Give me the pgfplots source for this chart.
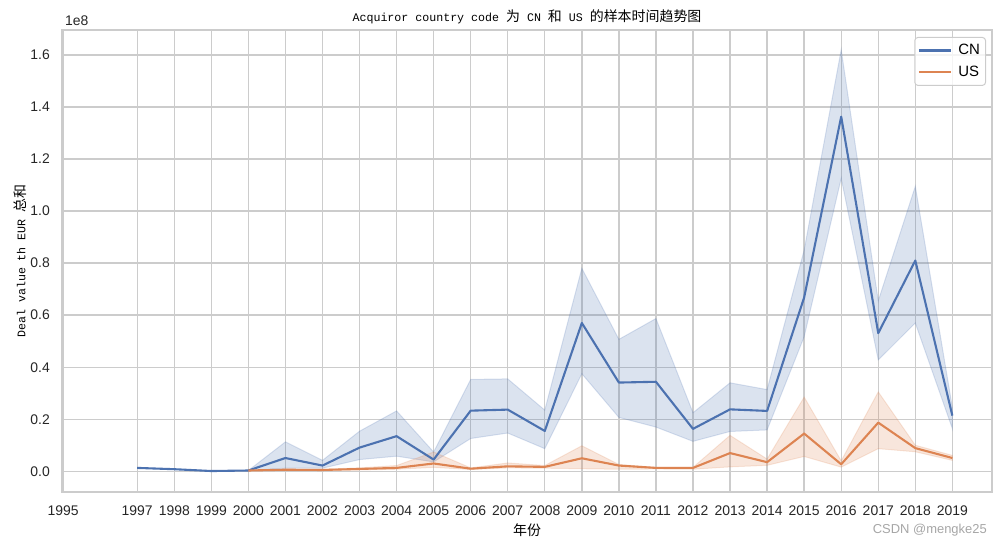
\documentclass[border=0pt]{standalone}
\usepackage{pgfplots}
\pgfplotsset{compat=1.18}
\usepgfplotslibrary{fillbetween}
\usepackage{fontspec}
\setmainfont{Liberation Sans}
\newfontfamily\cjk{Noto Sans CJK SC}
\newfontfamily\mono{Liberation Mono}
\newcommand\M[1]{{\mono\fontsize{11.67}{14}\selectfont #1}}
\newcommand\C[1]{{\cjk\fontsize{14}{16}\selectfont #1}}
\definecolor{cnblue}{RGB}{76,114,176}
\definecolor{usorange}{RGB}{221,132,82}
\definecolor{gridgray}{RGB}{204,204,204}

% year, mean, lower, upper (values in units of 1e8 EUR)
\pgfplotstableread{
year mean
1997 0.013
1998 0.008
1999 0.001
2000 0.003
2001 0.051
2002 0.022
2003 0.091
2004 0.135
2005 0.045
2006 0.233
2007 0.237
2008 0.155
2009 0.570
2010 0.341
2011 0.344
2012 0.163
2013 0.238
2014 0.232
2015 0.668
2016 1.363
2017 0.531
2018 0.810
2019 0.214
}\cnmean
\pgfplotstableread{
year lo up
2000 0.003 0.003
2001 0.012 0.113
2002 0.012 0.042
2003 0.045 0.154
2004 0.058 0.232
2005 0.036 0.074
2006 0.126 0.353
2007 0.147 0.355
2008 0.087 0.235
2009 0.375 0.780
2010 0.207 0.507
2011 0.170 0.587
2012 0.115 0.225
2013 0.153 0.340
2014 0.159 0.314
2015 0.517 0.850
2016 1.126 1.620
2017 0.428 0.655
2018 0.570 1.095
2019 0.164 0.245
}\cnci
\pgfplotstableread{
year mean lo up
2000 0.003 0.002 0.004
2001 0.006 0.003 0.009
2002 0.005 0.003 0.008
2003 0.009 0.005 0.013
2004 0.013 0.008 0.022
2005 0.030 0.015 0.074
2006 0.010 0.007 0.013
2007 0.019 0.013 0.032
2008 0.017 0.012 0.022
2009 0.050 0.010 0.098
2010 0.022 0.008 0.026
2011 0.013 0.009 0.015
2012 0.013 0.008 0.015
2013 0.070 0.017 0.138
2014 0.035 0.023 0.047
2015 0.145 0.057 0.285
2016 0.027 0.016 0.040
2017 0.187 0.087 0.305
2018 0.089 0.075 0.100
2019 0.051 0.042 0.061
}\us

\begin{document}
\begin{tikzpicture}
\begin{axis}[
  at={(0,0)}, anchor=south west,
  scale only axis, width=930bp, height=462bp,
  xmin=1994.97, xmax=2020.07,
  ymin=-0.0796, ymax=1.696,
  xtick={1995,1997,1998,...,2019},
  ytick={0,0.2,...,1.61},
  scaled y ticks=false,
  major tick length=0pt,
  grid=major,
  grid style={gridgray, line width=1.4bp},
  axis line style={gridgray, line width=1.7bp},
  /pgf/number format/assume math mode=true,
  tick label style={font=\fontsize{14}{16}\selectfont, text=black!85},
  xticklabel style={/pgf/number format/1000 sep={}, inner sep=0pt, anchor=north, yshift=-13.5bp},
  yticklabel style={/pgf/number format/fixed, /pgf/number format/fixed zerofill, /pgf/number format/precision=1, inner sep=0pt, anchor=east, xshift=-12bp},
  legend style={at={(1,1)}, anchor=north east, xshift=-6bp, yshift=-7bp,
    draw=gridgray, line width=1bp, rounded corners=3bp, fill=white, fill opacity=0.8, text opacity=1,
    font=\fontsize{15}{17}\selectfont, inner xsep=3bp, inner ysep=4.5bp, row sep=5bp, column sep=4bp,
    nodes={inner sep=2.5bp}},
  legend cell align=left,
  legend image code/.code={\draw[#1] (0bp,0bp) -- (32bp,0bp);},
]
\addplot[name path=cnU, draw=none, forget plot] table[x=year, y=up] {\cnci};
\addplot[name path=cnL, draw=none, forget plot] table[x=year, y=lo] {\cnci};
\addplot[fill=cnblue, fill opacity=0.2, draw=cnblue, draw opacity=0.2, line width=1bp, forget plot] fill between[of=cnU and cnL];
\addplot[name path=usU, draw=none, forget plot] table[x=year, y=up] {\us};
\addplot[name path=usL, draw=none, forget plot] table[x=year, y=lo] {\us};
\addplot[fill=usorange, fill opacity=0.2, draw=usorange, draw opacity=0.2, line width=1bp, forget plot] fill between[of=usU and usL];
\addplot[cnblue, line width=2.1bp, line join=round] table[x=year, y=mean] {\cnmean};
\addlegendentry{CN}
\addplot[usorange, line width=2.1bp, line join=round] table[x=year, y=mean] {\us};
\addlegendentry{US}
\end{axis}
\node[anchor=base west, font=\fontsize{14}{16}\selectfont, text=black!85, inner sep=0pt] at (3bp,466bp) {1e8};
\node[inner sep=0pt] at (465bp,475bp) {\M{Acquiror country code }\C{为}\M{ CN }\C{和}\M{ US }\C{的样本时间趋势图}};
\node[inner sep=0pt] at (465bp,-38bp) {\C{年份}};
\node[inner sep=0pt, rotate=90] at (-42bp,231bp) {\M{Deal value th EUR }\C{总和}};
\node[inner sep=0pt, anchor=east, font=\fontsize{13}{15}\selectfont, text=black!35] at (925bp,-38bp) {CSDN @mengke25};
\pgfresetboundingbox
\useasboundingbox (-62bp,-55bp) rectangle (940bp,492bp);
\end{tikzpicture}
\end{document}
